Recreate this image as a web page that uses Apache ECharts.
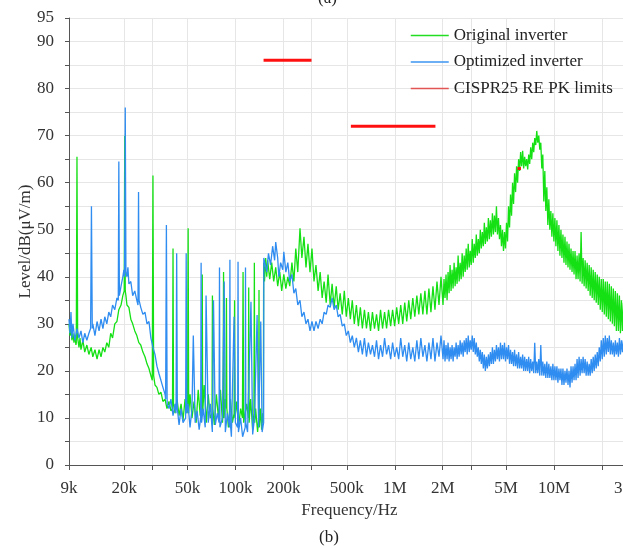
<!DOCTYPE html>
<html>
<head>
<meta charset="utf-8">
<script src="https://cdn.jsdelivr.net/npm/echarts@6/dist/echarts.min.js"></script>
<style>
html,body{margin:0;padding:0;background:#fff;}
#c{width:623px;height:548px;}
</style>
</head>
<body>
<div id="c"></div>
<script>
// frequencies in kHz, levels in dB(uV/m)
const xTickValues = [9,20,30,50,100,200,300,500,1000,2000,3000,5000,10000,20000,30000];
const xLabelValues = [9,20,50,100,200,500,1000,2000,5000,10000,30000];
const yLabelValues = [0,10,20,30,40,50,60,70,80,90,95];

const greenLow = [[9,30],[9.13,27.5],[9.26,29],[9.39,26.5],[9.53,28],[9.67,26],[9.81,27.5],[9.95,25.5],[10.0,26],[10.1,65.5],[10.2,27],[10.4,25],[10.55,27],[10.7,24.5],[11.0,26.5],[11.3,24],[11.65,25.5],[12.0,23.5],[12.4,25],[12.7,23],[13.1,24.5],[13.5,22.5],[13.9,24.5],[14.3,23],[14.7,25],[15.1,24],[15.55,26],[16.0,25],[16.45,28],[16.9,27],[17.45,30],[18.0,30.5],[18.5,33],[19.1,34],[19.6,36],[20.0,37],[20.15,70],[20.3,37],[20.5,36],[20.8,34],[21.4,33.5],[22.0,31],[22.6,30],[23.3,28.5],[24.0,27.5],[24.7,26],[25.4,25.5],[26.2,24],[27.0,23],[27.8,21.5],[28.6,20.5],[29.4,19],[30.0,18],[30.3,61.5],[30.6,19],[31.2,17],[32.1,16.5],[33.0,15],[34.0,15.5],[35.0,13.5],[36.1,14],[37.1,12],[38.2,13.5],[39.3,11.5],[40.2,12],[40.5,46],[40.8,13],[41.7,11],[42.9,14],[44.2,10.5],[45.5,13],[46.8,9.5],[48.2,14],[49.6,11],[50.0,12],[50.4,50.3],[50.8,11],[51.8,15],[53.3,10],[54.9,13.5],[56.6,9],[58.3,16],[60.0,10.5],[61.5,12],[61.8,40.5],[62.2,11],[63.6,17],[65.5,9],[67.4,15],[69.4,10],[71.2,11],[71.6,36],[72.0,12],[73.6,8.5],[75.8,15],[78.1,10],[80.4,16],[82.8,9],[83.5,11],[84.1,41],[84.7,10],[86.3,14],[87.2,12],[87.7,35.5],[88.2,12],[90.2,8],[92.9,14],[95.6,9],[98.0,11],[98.6,35],[99.2,10],[101.5,13.5],[104.5,8],[107.6,12],[110.5,10],[111.5,41],[112.5,9],[117.3,13],[120.3,10],[121,37.7],[121.7,9],[124.4,14],[128.1,7.5],[130.5,11],[131.3,43],[132,9],[133.7,12],[137.6,7],[139.8,10],[140.4,37.2],[141,8],[143.7,12],[145.8,7.5],[147.9,11],[149.5,9]];

const greenMid = [[150.2,43],[152,39],[154.6,44],[157,40],[159,43.5],[164,39.5],[168.7,43],[173.7,39],[178.8,42],[184,38],[189.6,41],[195,37],[201,40.5],[207,37.5],[213,40],[219,38],[226,43],[232.5,39],[239,46],[246,41],[254,50.3],[261,44],[269,48.5],[277,42],[285,47],[293.5,41],[302,46],[311,39],[320,42.5],[330,37],[340,41],[350,35.5],[360,39],[371,34.5],[381,40.5],[393,34],[404,38.5],[416,33.5],[429,38],[441,33],[454,36.5],[468,32],[482,37],[496,31.5],[511,35.5],[526,31],[541,35],[557,30],[574,34],[591,29.5],[608,33.5],[626,29],[645,33],[664,29],[683,32.5],[704,28.5],[724,32.5],[746,29],[768,32],[791,28.5],[814,33],[838,29],[863,32.5],[888,29],[914,33],[942,29.5],[969,33],[998,29.5],[1028,33.5],[1058,30],[1090,34],[1122,30],[1155,34.5],[1189,30.5],[1224,35],[1260,31],[1298,35.5],[1336,31.5],[1376,36],[1416,32],[1458,36.5],[1501,32],[1546,37],[1591,32],[1638,37.5],[1687,32.5],[1737,38],[1788,33],[1841,39],[1895,34],[1951,40]];

const blueLow = [[9,31],[9.13,28],[9.26,32.5],[9.39,27],[9.53,30],[9.81,26.5],[10.1,29],[10.4,27],[10.7,28.5],[11.0,26],[11.3,28],[11.65,26.5],[12.0,28],[12.3,29],[12.45,55],[12.6,29],[12.7,30],[13.1,27.5],[13.5,30.5],[13.9,28.5],[14.3,31],[14.7,29],[15.1,31.5],[15.55,30],[16.0,32.5],[16.45,31.5],[16.9,34],[17.45,33],[18.0,35.5],[18.35,35],[18.5,64.5],[18.65,36],[19.1,38],[19.6,40],[19.9,41.5],[20.1,40],[20.3,76],[20.5,41],[20.8,40],[21.1,42],[21.4,38.5],[22.0,39],[22.6,36],[23.3,37],[24.0,35],[24.4,34],[24.6,58],[24.8,35],[25.4,33.5],[26.2,32],[27.0,32.5],[27.8,30],[28.6,30.5],[29.4,27],[30.3,25],[31.2,23.5],[32.1,21],[33.0,19.5],[34.0,18],[35.0,16.5],[36.1,15],[36.4,14],[36.8,51],[37.2,13],[38.2,12],[39.3,14],[40.5,10.5],[41.7,13],[42.3,11],[42.7,45],[43.1,12],[44.2,8.5],[45.5,12],[46.8,9],[48.6,10],[49.0,45],[49.4,11],[50.3,13],[51.8,8],[53.3,12],[54.3,27.5],[55.8,9],[57.4,11.5],[59.1,7.5],[60.4,10],[60.8,43],[61.2,9],[62.6,12],[64.5,8],[65.3,36],[67.4,9],[69.4,13],[71.5,7],[72.7,35],[74.6,8.5],[76.8,11],[78.8,9],[79.3,42],[79.8,8],[82.8,10],[84.9,39],[86.3,7],[88.9,11],[91.7,8],[92.2,43.6],[92.7,9],[94.2,6],[97.9,31.5],[99.8,9],[103.1,8],[103.7,43.2],[104.3,7],[107.6,10],[110.8,6],[115.0,8],[115.5,42],[116,9],[119.0,7],[125,34.7],[128.1,6.5],[131.6,10],[136.6,31.9],[139.5,8],[144,30.5],[146.9,7],[150.1,9]];

const blueMid = [[150.5,44],[152,44],[157,41],[161,45],[166,42.5],[171,46.5],[176,43.5],[178.8,47.4],[184,44],[187,40],[192,43],[198,41.5],[201,45.3],[207,41],[213,43],[219,39],[226,40.5],[232.5,36.5],[239,37.5],[246,34],[254,35],[261,31.5],[269,32.5],[277,30],[285,31],[293.5,28.5],[302,30.5],[311,28.5],[320,30.5],[330,29],[340,31],[350,30],[360,32.5],[371,32],[381,34],[393,33.5],[404,35.5],[416,33],[429,34],[441,31.5],[454,32],[468,29.5],[482,30],[496,27.5],[511,28.5],[526,26],[541,27.5],[557,25],[574,27],[591,24],[608,26.5],[626,23.5],[645,27],[664,23],[683,26],[704,23.5],[724,25.5],[746,23],[768,26.5],[791,22.5],[814,25.5],[838,23],[863,27],[888,23.5],[914,25.5],[942,22.5],[969,26],[998,23],[1028,25],[1058,22.5],[1090,27],[1122,23],[1155,25.5],[1189,22],[1224,26],[1260,22.5],[1298,25],[1336,22],[1376,26.5],[1416,22.5],[1458,27],[1501,23],[1546,25.5],[1591,22],[1638,26],[1687,22.5],[1737,27],[1788,22],[1841,26],[1895,23],[1951,27.5]];

// 2 MHz - 30 MHz: shared frequency list (kHz) with the read levels of each trace
const fHigh = [2009,2038,2068,2098,2130,2161,2193,2225,2257,2290,2324,2358,2393,2428,2463,2499,2537,2574,2611,2649,2689,2728,2768,2808,2850,2892,2934,2977,3021,3065,3110,3155,3203,3250,3297,3345,3395,3445,3495,3546,3599,3651,3705,3759,3815,3871,3927,3985,4044,4103,4163,4224,4287,4349,4413,4478,4544,4610,4678,4746,4817,4887,4958,5031,5106,5180,5256,5333,5412,5491,5571,5653,5737,5820,5905,5992,6082,6171,6261,6353,6447,6541,6637,6734,6834,6934,7035,7138,7244,7350,7457,7566,7679,7791,7905,8021,8140,8259,8380,8503,8628,8754,8882,9012,9146,9279,9415,9553,9695,9836,9980,10126,10277,10427,10579,10734,10894,11053,11214,11378,11548,11717,11888,12062,12241,12420,12601,12786,12976,13165,13358,13553,13755,13956,14160,14367,14581,14794,15010,15230,15456,15682,15911,16144,16384,16623,16866,17113,17367,17621,17879,18140,18410,18679,18952,19229,19515,19800,20090,20384,20687,20989,21296,21608,21929,22249,22575,22905,23245,23585,23930,24280,24641,25001,25366,25738,26120,26502,26890,27283,27689,28094,28505,28922,29351,29780,30000];
const greenHighL = [34,39.5,35.5,40.5,35,41,36.5,42.5,37,41.5, 37.5,43,38,42,38.5,44.5,39,43,39.5,45, 40,44.5,41,46,41.5,47,42,45.5,42.5,48, 43,47,44,49,44.5,48,45,50,46,49.5, 46.5,51.5,47,50.5,47.5,52.5,48,52,48.5,53.5, 49,53,49.5,55,49,52.5,48,51,46.5,50, 45.5,49.5,46,51.5,47.5,55,50.5,57.5,53,60, 55.5,62,58,63.5,60,65,62.5,66.5,63.5,66.8, 63,65.5,63.5,65,62.8,66,64,67.5,65,68.5, 66.5,69.5,68,71,68.5,70,67,68.5,63,66, 56,62.5,54,59,51,56.5,50,54,48.5,53.5, 47.5,52.5,46.5,52,45.5,51,44.5,50,44,49, 43,48.5,42.5,47.5,42,47,41.5,46,41,45.5, 40.5,45.5,39.5,44.5,39.5,45,39,49.5,38.5,44, 38,43.5,37.5,43,37,42.5,36,42,35.5,41.5, 35,41,34.5,40.5,34,40,33,39.5,32.5,39.5, 32,39,31.5,39,31,38.5,30.5,38,30,37.5, 29.5,37,28.5,36.5,28.5,36,28,35,28.5,34.5, 28,34,28.5,33.5,29,33,29.5];
const blueHighL = [22.5,26.5,22,25.5,22.5,26,22,25,22.5,25.5, 22,25,23,26,22.5,25.5,23,26.5,23.5,26, 23,26.5,24,27,23.5,27.5,24,26.5,24.5,27.5, 24,27,23.5,26,23,25,22,24.5,21.5,24, 20.5,23.5,20,23,20.5,23.5,21,24,21.5,25, 21.5,24.5,22,25.5,22.5,25,22,26,22.5,25.5, 22.5,26,22,25,22.5,25.5,21.5,24.5,21.5,24, 21,24.5,21,23.5,20.5,24,20.5,23,20.5,23.5, 20,23,20,22.5,20,23,19.5,22.5,20,22, 19.5,26,19.5,22,19.5,22.5,19,25.5,19,22, 19,21.5,18.5,22,18.5,21.5,18.5,21,18,21.5, 18,21,18,21,17.5,20.5,18,20.5,17,20.5, 17,20,17.5,20.5,17,20,16.5,21,17.5,21, 18,21.5,18,22.5,18.5,23,19,22.5,19.5,23, 19.5,22.5,19,22,19,21.5,19,22.5,19.5,23, 20,23.5,20.5,24,21,25,22,26.5,22.5,27, 23,27.5,23.5,27,24,27.5,23.5,26.5,23.5,26, 23,26.5,23.5,26,23,27,23.5,26.5,24,26.5, 24,27,23.5,26.5,24,26,25];

const limitLW = [[150,86],[300,86]];
const limitMW = [[530,72],[1800,72]];
const limitSW = [[5900,63],[6200,63]];

const zip = (xs, ys) => xs.map((x, i) => [x, ys[i]]);
const greenData = greenLow.concat(greenMid, zip(fHigh, greenHighL));
const blueData = blueLow.concat(blueMid, zip(fHigh, blueHighL));

const FONT = 'Liberation Serif';
const chart = echarts.init(document.getElementById('c'), null, {renderer:'canvas'});
const fmtX = v => v < 1000 ? (v + 'k') : ((v / 1000) + 'M');
const lineSeries = (name, data, color, width, z) => ({
  name: name, type: 'line', data: data, symbol: 'none', showSymbol: false,
  lineStyle: {color: color, width: width}, itemStyle: {color: color},
  animation: false, silent: true, z: z, sampling: null, connectNulls: false
});
chart.setOption({
  animation: false,
  backgroundColor: '#ffffff',
  grid: {left: 69, right: -7, top: 18, bottom: 83, containLabel: false, outerBoundsMode: 'none'},
  legend: {
    orient: 'vertical', left: 405, top: 22, itemWidth: 38, itemHeight: 15, itemGap: 9.5,
    textStyle: {fontFamily: FONT, fontSize: 17, color: '#222'},
    itemStyle: {opacity: 0, borderWidth: 0},
    data: [
      {name: 'Original inverter', lineStyle: {color: '#22dd22', width: 1.5, opacity: 1}},
      {name: 'Optimized inverter', lineStyle: {color: '#3d95f2', width: 1.5, opacity: 1}},
      {name: 'CISPR25 RE PK limits', lineStyle: {color: '#e25555', width: 1.5, opacity: 1}}
    ]
  },
  graphic: [
    {type: 'text', left: 318, top: -10, style: {text: '(a)', font: '17px "Liberation Serif"', fill: '#222'}},
    {type: 'text', left: 319, top: 529, style: {text: '(b)', font: '17px "Liberation Serif"', fill: '#222'}}
  ],
  xAxis: {
    type: 'log', logBase: 10, min: 9, max: 30000,
    name: 'Frequency/Hz', nameLocation: 'middle', nameGap: 34,
    nameTextStyle: {fontFamily: FONT, fontSize: 17, color: '#333'},
    axisLine: {show: true, onZero: false, lineStyle: {color: '#555', width: 1}},
    axisTick: {show: true, customValues: xTickValues, length: 5, lineStyle: {color: '#555'}},
    axisLabel: {customValues: xLabelValues, formatter: fmtX, fontFamily: FONT, fontSize: 17, color: '#333', margin: 15},
    splitLine: {show: true, lineStyle: {color: '#e6e6e6', width: 1}},
    minorTick: {show: false}, minorSplitLine: {show: false}
  },
  yAxis: {
    type: 'value', min: 0, max: 95, interval: 5,
    name: 'Level/dB(μV/m)', nameLocation: 'middle', nameGap: 35, nameMoveOverlap: false,
    nameTextStyle: {fontFamily: FONT, fontSize: 17, color: '#333'},
    axisLine: {show: true, lineStyle: {color: '#555', width: 1}},
    axisTick: {show: true, length: 4, lineStyle: {color: '#555'}},
    axisLabel: {fontFamily: FONT, fontSize: 17, color: '#333', margin: 15,
      formatter: v => yLabelValues.indexOf(v) >= 0 ? String(v) : ''},
    splitLine: {show: true, lineStyle: {color: '#e6e6e6', width: 1}}
  },
  series: [
    lineSeries('Original inverter', greenData, '#14e014', 1.3, 2),
    lineSeries('Optimized inverter', blueData, '#2f8cf0', 1.3, 3),
    lineSeries('CISPR25 RE PK limits', limitLW, '#ff1010', 3, 4),
    lineSeries('CISPR25 RE PK limits', limitMW, '#ff1010', 3, 4),
    lineSeries('CISPR25 RE PK limits', limitSW, '#ff1010', 3, 4)
  ]
});
</script>
</body>
</html>
